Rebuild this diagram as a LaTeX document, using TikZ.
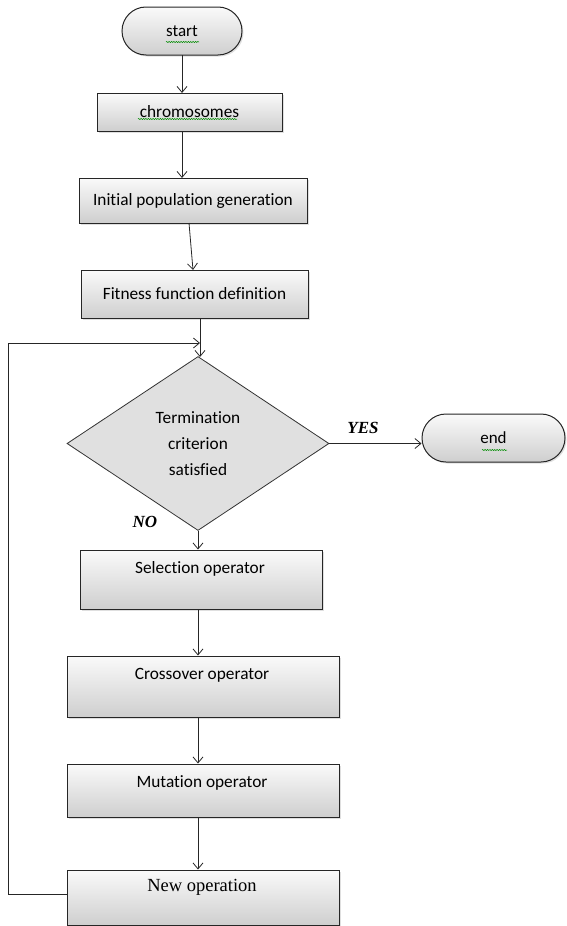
\documentclass[tikz,border=0pt]{standalone}
\usepackage{fontspec}
\setmainfont[Ligatures={NoCommon}]{Carlito}
\newfontfamily\serifb{Liberation Serif}
\usetikzlibrary{arrows.meta,shapes.geometric,shadows,decorations.pathmorphing}
\begin{document}
\begin{tikzpicture}[x=1pt,y=-1pt,
  boxshade/.style={draw=black!85, line width=1pt, top color=gray!4, bottom color=gray!38,
    drop shadow={shadow xshift=1.5pt,shadow yshift=-1.5pt,opacity=0.25}},
  procbox/.style={boxshade, rectangle, inner sep=0pt},
  term/.style={boxshade, rectangle, rounded corners=24pt, inner sep=0pt, font=\fontsize{17}{19}\selectfont},
  lbl/.style={font=\fontsize{17.3}{19}\selectfont, inner sep=0pt},
  yn/.style={font=\serifb\bfseries\itshape\fontsize{17}{20}\selectfont, inner sep=0pt},
  conn/.style={draw=black!85, line width=0.8pt, -{Straight Barb[length=6pt,width=10pt,line width=0.8pt]}},
  wave/.style={draw=green!55!black, line width=0.5pt, decorate, decoration={snake, segment length=2.4pt, amplitude=0.6pt}}
]
\useasboundingbox (0,0) rectangle (566,926);

% terminators
\node[term, minimum width=120pt, minimum height=48pt] (start) at (182,31) {start};
\node[term, minimum width=143pt, minimum height=48pt] (end) at (493.5,438) {end};

% process boxes
\node[procbox, minimum width=185pt, minimum height=38pt, lbl] (chrom) at (189.5,112) {chromosomes};
\node[procbox, minimum width=228pt, minimum height=45pt, lbl] (init) at (193,200.5) {Initial population generation};
\node[procbox, minimum width=227pt, minimum height=48pt, lbl] (fit) at (194.5,294) {Fitness function definition};

% decision
\node[diamond, draw=black!80, line width=0.8pt, fill=gray!24, inner sep=0pt,
      minimum width=262pt, minimum height=174pt,
      font=\fontsize{17.3}{26}\selectfont, align=center] (term) at (198,443.5)
      {Termination\\criterion\\satisfied};

% lower boxes
\node[procbox, minimum width=242pt, minimum height=59pt] (sel) at (201,579.5) {};
\node[procbox, minimum width=272pt, minimum height=61pt] (cross) at (203,686.5) {};
\node[procbox, minimum width=272pt, minimum height=53pt] (mut) at (203,790.5) {};
\node[procbox, minimum width=272pt, minimum height=55pt] (newop) at (203,897.5) {};

\node[lbl] (selt) at (200,569) {Selection operator};
\node[lbl] (crosst) at (202,675) {Crossover operator};
\node[lbl] (mutt) at (202,783) {Mutation operator};
\node[font=\serifb\fontsize{18.5}{21}\selectfont, inner sep=0pt] (newt) at (202,887) {New operation};

% YES / NO
\node[yn] (yes) at (363,428) {YES};
\node[yn] (no) at (145,522) {NO};

% connector points
\coordinate (a1) at (182,55);
\coordinate (a2) at (182,93);
\coordinate (b1) at (182,131);
\coordinate (b2) at (182,178);
\coordinate (c1) at (189,223);
\coordinate (c2) at (193,270);
\coordinate (d1) at (200,318);
\coordinate (d2) at (200,357);
\coordinate (loopL) at (8,894);
\coordinate (loopT) at (8,343);
\coordinate (loopE) at (200,343);

\draw[conn] (a1) -- (a2);
\draw[conn] (b1) -- (b2);
\draw[conn] (c1) -- (c2);
\draw[conn] (d1) -- (d2);
\draw[conn] (term.east) -- (term.east -| end.west);
\draw[conn] (term.south) -- (term.south |- sel.north);
\draw[conn] (sel.south -| term.south) -- (cross.north -| term.south);
\draw[conn] (cross.south -| term.south) -- (mut.north -| term.south);
\draw[conn] (mut.south -| term.south) -- (newop.north -| term.south);
\draw[conn] (newop.west |- loopL) -- (loopL) -- (loopT) -- (loopE);

% spell-check underlines
\draw[wave] (166,42) -- (199,42);
\draw[wave] (138,119) -- (237,119);
\draw[wave] (482,450) -- (507,450);
\end{tikzpicture}
\end{document}
